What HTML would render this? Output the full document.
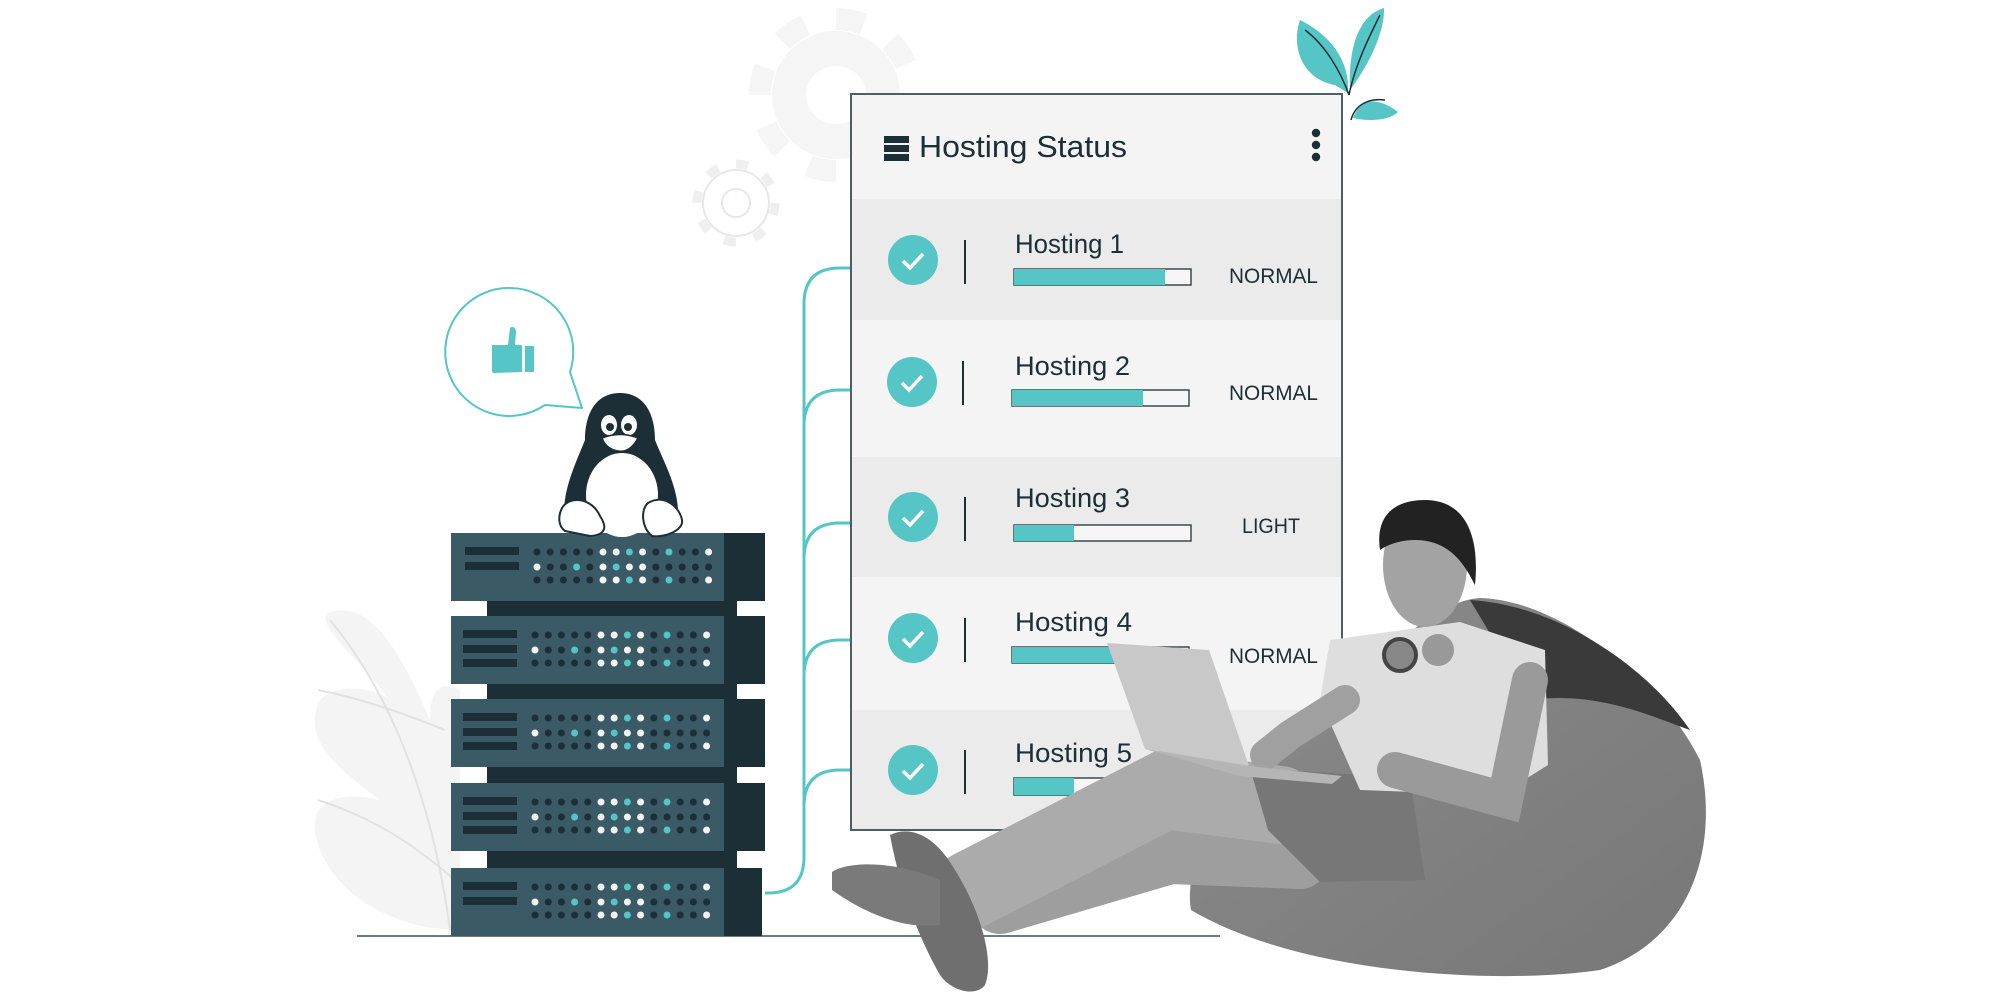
<!DOCTYPE html>
<html><head><meta charset="utf-8"><style>
html,body{margin:0;padding:0;background:#fff;}
svg{display:block;}
text{font-family:"Liberation Sans",sans-serif;fill:#1c2e36;}
</style></head><body>
<svg width="2001" height="1001" viewBox="0 0 2001 1001" xmlns="http://www.w3.org/2000/svg">
<defs>
<g id="dots">
<g fill="#1c2e36">
<circle cx="537" cy="552" r="3.5"/><circle cx="550.2" cy="552" r="3.5"/><circle cx="563.4" cy="552" r="3.5"/><circle cx="576.6" cy="552" r="3.5"/><circle cx="589.8" cy="552" r="3.5"/><circle cx="655.8" cy="552" r="3.5"/><circle cx="682.2" cy="552" r="3.5"/><circle cx="695.4" cy="552" r="3.5"/>
<circle cx="537" cy="580" r="3.5"/><circle cx="550.2" cy="580" r="3.5"/><circle cx="563.4" cy="580" r="3.5"/><circle cx="576.6" cy="580" r="3.5"/><circle cx="589.8" cy="580" r="3.5"/><circle cx="655.8" cy="580" r="3.5"/><circle cx="682.2" cy="580" r="3.5"/><circle cx="695.4" cy="580" r="3.5"/>
<circle cx="550.2" cy="567" r="3.5"/><circle cx="563.4" cy="567" r="3.5"/><circle cx="589.8" cy="567" r="3.5"/><circle cx="655.8" cy="567" r="3.5"/><circle cx="669" cy="567" r="3.5"/><circle cx="682.2" cy="567" r="3.5"/><circle cx="695.4" cy="567" r="3.5"/><circle cx="708.6" cy="567" r="3.5"/>
</g>
<g fill="#f4f4f4">
<circle cx="603" cy="552" r="3.5"/><circle cx="616.2" cy="552" r="3.5"/><circle cx="642.6" cy="552" r="3.5"/><circle cx="708.6" cy="552" r="3.5"/>
<circle cx="603" cy="580" r="3.5"/><circle cx="616.2" cy="580" r="3.5"/><circle cx="642.6" cy="580" r="3.5"/><circle cx="708.6" cy="580" r="3.5"/>
<circle cx="537" cy="567" r="3.5"/><circle cx="603" cy="567" r="3.5"/><circle cx="629.4" cy="567" r="3.5"/><circle cx="642.6" cy="567" r="3.5"/>
</g>
<g fill="#56c5c5">
<circle cx="629.4" cy="552" r="3.5"/><circle cx="669" cy="552" r="3.5"/>
<circle cx="629.4" cy="580" r="3.5"/><circle cx="669" cy="580" r="3.5"/>
<circle cx="576.6" cy="567" r="3.5"/><circle cx="616.2" cy="567" r="3.5"/>
</g>
</g>
<linearGradient id="bb" x1="0" y1="0" x2="1" y2="1"><stop offset="0" stop-color="#8c8c8c"/><stop offset="1" stop-color="#777"/></linearGradient>
</defs>
<!-- gears -->
<circle cx="836" cy="95" r="64" fill="#f5f5f5"/>
<circle cx="836" cy="95" r="76" fill="none" stroke="#f5f5f5" stroke-width="22" stroke-dasharray="28 31.7"/>
<ellipse cx="836" cy="95" rx="30" ry="29" fill="#fff"/>
<circle cx="736" cy="203" r="33" fill="none" stroke="#e8e8e8" stroke-width="2"/>
<circle cx="736" cy="203" r="39" fill="none" stroke="#efefef" stroke-width="9" stroke-dasharray="12 18.6"/>
<circle cx="736" cy="203" r="14" fill="none" stroke="#e8e8e8" stroke-width="2"/>
<!-- plant -->
<path d="M1348,93 C1350,60 1330,35 1300,20 C1290,50 1305,80 1335,85 Z" fill="#56c5c5"/>
<path d="M1350,90 C1365,70 1385,35 1384,8 C1360,15 1348,45 1350,90 Z" fill="#56c5c5"/>
<path d="M1353,118 C1360,100 1375,95 1398,112 C1390,120 1370,122 1353,118 Z" fill="#56c5c5"/>
<path d="M1349,95 C1340,70 1325,45 1305,30 M1349,95 C1355,65 1370,35 1380,15 M1351,120 C1355,105 1368,98 1385,100" stroke="#1c2e36" stroke-width="1.5" fill="none"/>
<!-- left leaf -->
<path d="M460,930 C400,930 340,900 320,850 C300,800 340,790 380,800 C340,770 300,740 320,700 C340,680 380,690 390,700 C360,660 310,620 330,612 C370,600 400,650 430,720 C430,690 440,680 460,690 Z" fill="#f4f4f4"/>
<path d="M330,620 C380,680 430,780 450,930 M318,690 C370,700 420,720 445,730 M318,800 C380,820 420,850 455,880" stroke="#e2e2e2" stroke-width="2" fill="none"/>
<!-- connectors -->
<g stroke="#56c5c5" stroke-width="3" fill="none">
<path d="M851,268 L840,268 Q804,268 804,304 L804,857 Q804,893 768,893 L765,893"/>
<path d="M804,426 Q804,390 840,390 L851,390"/>
<path d="M804,559 Q804,523 840,523 L851,523"/>
<path d="M804,676 Q804,640 840,640 L851,640"/>
<path d="M804,806 Q804,770 840,770 L851,770"/>
</g>
<!-- ground -->
<line x1="357" y1="936" x2="1220" y2="936" stroke="#6b7b82" stroke-width="2"/>
<!-- servers -->
<rect x="487" y="540" width="250" height="396" fill="#1c2e36"/>
<rect x="451" y="533" width="273" height="68" fill="#3a5a66"/><rect x="724" y="533" width="41" height="68" fill="#1c2e36"/>
<rect x="451" y="616" width="273" height="68" fill="#3a5a66"/><rect x="724" y="616" width="41" height="68" fill="#1c2e36"/>
<rect x="451" y="699" width="273" height="68" fill="#3a5a66"/><rect x="724" y="699" width="41" height="68" fill="#1c2e36"/>
<rect x="451" y="783" width="273" height="68" fill="#3a5a66"/><rect x="724" y="783" width="41" height="68" fill="#1c2e36"/>
<rect x="451" y="868" width="273" height="68" fill="#3a5a66"/><rect x="724" y="868" width="38" height="68" fill="#1c2e36"/>
<g fill="#1c2e36">
<rect x="465" y="547" width="54" height="8"/><rect x="465" y="562" width="54" height="8"/>
<rect x="463" y="630" width="54" height="8"/><rect x="463" y="645" width="54" height="8"/><rect x="463" y="659" width="54" height="8"/>
<rect x="463" y="713" width="54" height="8"/><rect x="463" y="728" width="54" height="8"/><rect x="463" y="742" width="54" height="8"/>
<rect x="463" y="797" width="54" height="8"/><rect x="463" y="812" width="54" height="8"/><rect x="463" y="826" width="54" height="8"/>
<rect x="463" y="882" width="54" height="8"/><rect x="463" y="897" width="54" height="8"/>
</g>
<use href="#dots"/>
<use href="#dots" transform="translate(-2,83)"/>
<use href="#dots" transform="translate(-2,166)"/>
<use href="#dots" transform="translate(-2,250)"/>
<use href="#dots" transform="translate(-2,335)"/>
<!-- bubble -->
<path d="M570,372 L582,408 L545,405 A64,64 0 1 1 570,372 Z" fill="#fff" stroke="#56c5c5" stroke-width="2" stroke-linejoin="round"/>
<path d="M492,345 L508,345 L510,328 C512,326 516,327 516,332 L515,345 L522,345 L522,372 L494,373 C491,373 492,368 492,365 Z" fill="#56c5c5"/>
<rect x="525" y="346" width="9" height="26" fill="#56c5c5"/>
<!-- penguin -->
<path d="M620,393 C645,393 655,415 655,440 C665,465 680,490 678,520 L565,525 C560,495 575,465 585,440 C585,415 595,393 620,393 Z" fill="#1c2e36"/>
<ellipse cx="622" cy="495" rx="36" ry="42" fill="#fff"/>
<ellipse cx="609" cy="425" rx="8" ry="10" fill="#fff"/><ellipse cx="629" cy="425" rx="8" ry="10" fill="#fff"/>
<circle cx="610" cy="427" r="4" fill="#1c2e36"/><circle cx="628" cy="427" r="4" fill="#1c2e36"/>
<path d="M602,438 Q620,431 638,438 Q630,453 618,451 Q606,449 602,438 Z" fill="#fff" stroke="#1c2e36" stroke-width="1.5"/>
<path d="M562,508 C570,495 592,498 600,516 C608,528 605,535 590,536 L565,531 C558,526 558,516 562,508 Z" fill="#fff" stroke="#1c2e36" stroke-width="2"/>
<path d="M648,503 C665,493 680,508 682,520 C684,530 665,538 652,536 C642,528 640,510 648,503 Z" fill="#fff" stroke="#1c2e36" stroke-width="2"/>
<!-- panel -->
<rect x="851" y="94" width="491" height="736" fill="#f4f4f4" stroke="#4c5e66" stroke-width="2"/>
<rect x="852" y="199" width="489" height="121" fill="#ebebeb"/>
<rect x="852" y="457" width="489" height="120" fill="#ebebeb"/>
<rect x="852" y="710" width="489" height="119" fill="#ebebeb"/>
<rect x="884" y="136" width="25" height="7" fill="#1c2e36"/><rect x="884" y="145" width="25" height="7" fill="#1c2e36"/><rect x="884" y="154" width="25" height="7" fill="#1c2e36"/>
<text x="919" y="157" font-size="31" textLength="208" lengthAdjust="spacingAndGlyphs">Hosting Status</text>
<circle cx="1316" cy="133" r="4.2" fill="#1c2e36"/><circle cx="1316" cy="145" r="4.2" fill="#1c2e36"/><circle cx="1316" cy="157" r="4.2" fill="#1c2e36"/>
<g>
<circle cx="913" cy="260" r="25" fill="#56c5c5"/><path d="M903,261 L910,268 L923,254" stroke="#fff" stroke-width="3.5" fill="none"/>
<line x1="965" y1="240" x2="965" y2="284" stroke="#1c2e36" stroke-width="2"/>
<text x="1015" y="253" font-size="27" textLength="109" lengthAdjust="spacingAndGlyphs">Hosting 1</text>
<rect x="1014" y="269" width="177" height="16" fill="#f6f6f6" stroke="#3a4a50" stroke-width="1.5"/><rect x="1014" y="269" width="151" height="16" fill="#56c5c5"/>
<text x="1229" y="283" font-size="21" textLength="89" lengthAdjust="spacingAndGlyphs">NORMAL</text>

<circle cx="912" cy="382" r="25" fill="#56c5c5"/><path d="M902,383 L909,390 L922,376" stroke="#fff" stroke-width="3.5" fill="none"/>
<line x1="963" y1="361" x2="963" y2="405" stroke="#1c2e36" stroke-width="2"/>
<text x="1015" y="375" font-size="27" textLength="115" lengthAdjust="spacingAndGlyphs">Hosting 2</text>
<rect x="1012" y="390" width="177" height="16" fill="#f6f6f6" stroke="#3a4a50" stroke-width="1.5"/><rect x="1012" y="390" width="131" height="16" fill="#56c5c5"/>
<text x="1229" y="400" font-size="21" textLength="89" lengthAdjust="spacingAndGlyphs">NORMAL</text>

<circle cx="913" cy="517" r="25" fill="#56c5c5"/><path d="M903,518 L910,525 L923,511" stroke="#fff" stroke-width="3.5" fill="none"/>
<line x1="965" y1="497" x2="965" y2="541" stroke="#1c2e36" stroke-width="2"/>
<text x="1015" y="507" font-size="27" textLength="115" lengthAdjust="spacingAndGlyphs">Hosting 3</text>
<rect x="1014" y="525" width="177" height="16" fill="#f6f6f6" stroke="#3a4a50" stroke-width="1.5"/><rect x="1014" y="525" width="60" height="16" fill="#56c5c5"/>
<text x="1242" y="533" font-size="21" textLength="58" lengthAdjust="spacingAndGlyphs">LIGHT</text>

<circle cx="913" cy="638" r="25" fill="#56c5c5"/><path d="M903,639 L910,646 L923,632" stroke="#fff" stroke-width="3.5" fill="none"/>
<line x1="965" y1="618" x2="965" y2="662" stroke="#1c2e36" stroke-width="2"/>
<text x="1015" y="631" font-size="27" textLength="117" lengthAdjust="spacingAndGlyphs">Hosting 4</text>
<rect x="1012" y="647" width="177" height="16" fill="#f6f6f6" stroke="#3a4a50" stroke-width="1.5"/><rect x="1012" y="647" width="130" height="16" fill="#56c5c5"/>
<text x="1229" y="663" font-size="21" textLength="89" lengthAdjust="spacingAndGlyphs">NORMAL</text>

<circle cx="913" cy="770" r="25" fill="#56c5c5"/><path d="M903,771 L910,778 L923,764" stroke="#fff" stroke-width="3.5" fill="none"/>
<line x1="965" y1="750" x2="965" y2="794" stroke="#1c2e36" stroke-width="2"/>
<text x="1015" y="762" font-size="27" textLength="117" lengthAdjust="spacingAndGlyphs">Hosting 5</text>
<rect x="1014" y="778" width="177" height="17" fill="#f6f6f6" stroke="#3a4a50" stroke-width="1.5"/><rect x="1014" y="778" width="60" height="17" fill="#56c5c5"/>
</g>
<!-- beanbag -->
<path d="M1191,910 C1180,850 1250,760 1330,720 C1380,650 1440,600 1480,598 C1560,600 1660,680 1700,760 C1720,850 1690,940 1600,970 C1500,985 1300,975 1191,910 Z" fill="url(#bb)"/>
<path d="M1470,600 C1560,605 1650,670 1690,730 C1660,720 1600,690 1530,700 Z" fill="#3a3a3a"/>
<!-- man -->
<path d="M1300,860 L1170,855 L1000,905" stroke="#9e9e9e" stroke-width="58" stroke-linecap="round" fill="none"/>
<path d="M1280,805 L1165,790 L970,890" stroke="#ababab" stroke-width="78" stroke-linecap="round" fill="none"/>
<path d="M1250,768 L1410,778 L1425,880 L1320,882 L1268,830 Z" fill="#777"/>
<path d="M1330,640 L1460,622 L1545,650 L1548,765 L1500,795 L1360,790 L1320,700 Z" fill="#dedede"/>
<path d="M1530,680 L1505,800 L1395,770" stroke="#9a9a9a" stroke-width="36" stroke-linecap="round" fill="none"/>
<path d="M1345,700 L1290,735 L1265,755" stroke="#a0a0a0" stroke-width="30" stroke-linecap="round" fill="none"/>
<ellipse cx="1425" cy="565" rx="42" ry="62" fill="#a3a3a3"/>
<path d="M1380,550 C1375,515 1395,500 1425,500 C1465,500 1480,535 1475,585 C1465,565 1450,540 1415,540 C1400,540 1387,545 1380,550 Z" fill="#222"/>
<circle cx="1400" cy="655" r="16" fill="#888" stroke="#444" stroke-width="4"/><circle cx="1438" cy="650" r="16" fill="#999"/>
<path d="M1107,643 L1209,650 L1249,766 L1145,749 Z" fill="#c8c8c8"/>
<path d="M1145,749 L1249,766 L1342,776 L1332,784 L1240,776 Z" fill="#b5b5b5"/>
<path d="M890,835 C910,825 935,835 955,870 C980,910 995,960 985,985 C975,998 950,990 940,975 C920,940 900,890 890,835 Z" fill="#6f6f6f"/>
<path d="M832,872 C850,860 900,862 940,880 L940,925 C900,930 860,910 832,890 Z" fill="#7a7a7a"/>
</svg>
</body></html>
